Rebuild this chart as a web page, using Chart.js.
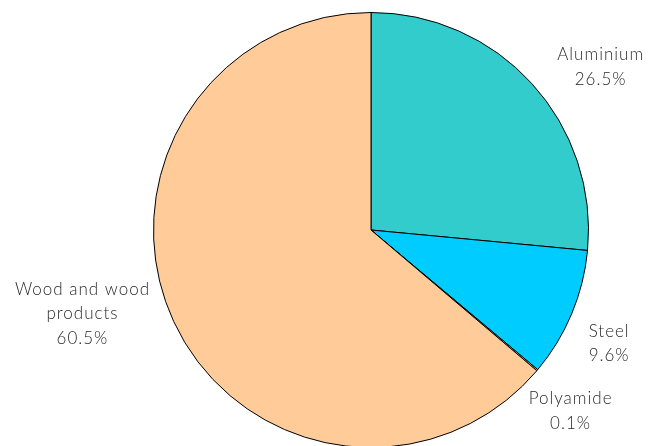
<!DOCTYPE html>
<html>
<head>
<meta charset="utf-8">
<script src="https://cdn.jsdelivr.net/npm/chart.js@4/dist/chart.umd.min.js"></script>
<style>
  html, body { margin: 0; padding: 0; background: #fff; overflow: hidden; }
  #wrap { position: relative; width: 652px; height: 460px; }
</style>
</head>
<body>
<div id="wrap"><canvas id="pie"></canvas></div>
<script>
// slice data, clockwise from 12 o'clock
const materials = ['Aluminium', 'Steel', 'Polyamide', 'Wood and wood|products'];
const shares = [26.5, 9.6, 0.1, 63.8];
const shareLabels = ['26.5%', '9.6%', '0.1%', '60.5%'];
const sliceColors = ['#33CCCC', '#00CCFF', '#FFCC99', '#FFCC99'];

// label nudges from the point just outside each slice's mid-angle
const labelNudge = [[54, -3], [19, 22], [18, 28], [-73, -16]];

const outsideLabels = {
  id: 'outsideLabels',
  afterDatasetsDraw(chart) {
    const ctx = chart.ctx;
    const arcs = chart.getDatasetMeta(0).data;
    ctx.save();
    ctx.font = '300 17px Lato, "Open Sans", sans-serif';
    ctx.letterSpacing = '1px';
    ctx.fillStyle = '#2a2a2a';
    ctx.textAlign = 'center';
    ctx.textBaseline = 'middle';
    const lineH = 24.5;
    arcs.forEach((arc, i) => {
      const mid = (arc.startAngle + arc.endAngle) / 2;
      const r = arc.outerRadius + 20;
      const x = arc.x + Math.cos(mid) * r + labelNudge[i][0];
      const y = arc.y + Math.sin(mid) * r + labelNudge[i][1];
      const lines = materials[i].split('|').concat(shareLabels[i]);
      const top = y - (lines.length - 1) * lineH / 2;
      lines.forEach((t, k) => ctx.fillText(t, x, top + k * lineH));
    });
    ctx.restore();
  }
};

new Chart(document.getElementById('pie'), {
  type: 'pie',
  data: {
    labels: materials.map(m => m.replace('|', ' ')),
    datasets: [{
      data: shares,
      backgroundColor: sliceColors,
      borderColor: '#000',
      borderWidth: 1
    }]
  },
  options: {
    responsive: true,
    maintainAspectRatio: false,
    animation: false,
    layout: { padding: { left: 153, right: 63, top: 12, bottom: 12 } },
    plugins: {
      legend: { display: false },
      tooltip: { enabled: false }
    }
  },
  plugins: [outsideLabels]
});
</script>
</body>
</html>
